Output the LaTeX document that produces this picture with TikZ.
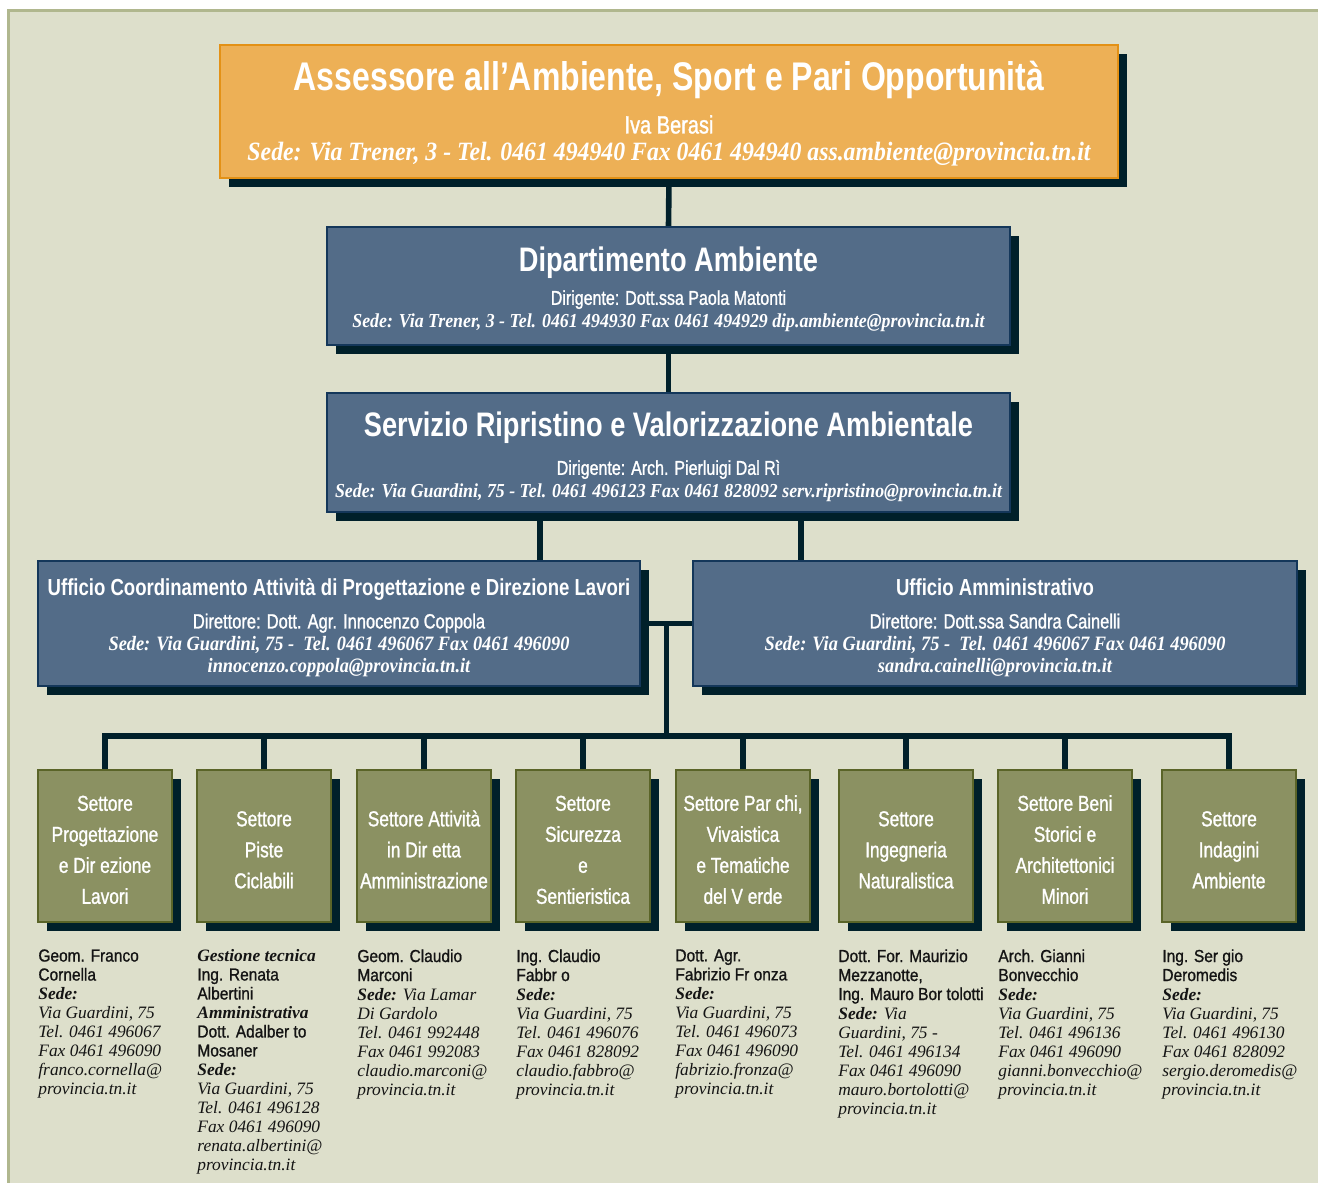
\documentclass[tikz,border=0pt]{standalone}
\usepackage{fontspec}
\setmainfont{Liberation Serif}
\newfontfamily\condsans[FakeStretch=0.8]{Liberation Sans}
\newfontfamily\medsans[FakeStretch=0.8, BoldFont={Liberation Sans},
  BoldFeatures={FakeBold=1.2}]{Liberation Sans}
\newfontfamily\namesans[FakeStretch=0.89, BoldFont={Liberation Sans},
  BoldFeatures={FakeBold=1}]{Liberation Sans}
\newfontfamily\condserif[FakeStretch=0.9]{Liberation Serif}
\usetikzlibrary{positioning, calc, backgrounds, shadows}
\definecolor{panelbg}{HTML}{DDDFCB}
\definecolor{panelrule}{HTML}{B0B78E}
\definecolor{orgfill}{HTML}{EDB056}
\definecolor{orgrule}{HTML}{E39116}
\definecolor{bluefill}{HTML}{536C88}
\definecolor{bluerule}{HTML}{14375A}
\definecolor{olivefill}{HTML}{8B9162}
\definecolor{oliverule}{HTML}{5A6428}
\definecolor{deepteal}{HTML}{00202A}
\definecolor{inktext}{HTML}{141414}
\newcommand{\hdf}[3]{\condsans\bfseries\fontsize{#1}{#2}\selectfont\rule{0pt}{#3}}
\newcommand{\subf}[2]{\medsans\bfseries\upshape\fontsize{#1}{#2}\selectfont}
\newcommand{\sedef}[2]{\condserif\bfseries\itshape\fontsize{#1}{#2}\selectfont}
\newcommand{\who}[1]{{\namesans\bfseries\upshape #1}}
\newcommand{\sede}{\textbf{Sede:}}

\begin{document}
\begin{tikzpicture}[x=0.5pt, y=-0.5pt,
    office/.style={rectangle, draw=#1rule, fill=#1fill, line width=1pt,
                   inner sep=0pt, align=center, text=white,
                   drop shadow={shadow xshift=4.5pt, shadow yshift=-4.5pt,
                                fill=deepteal, opacity=1}},
    settore/.style={office=olive, minimum width=67pt, minimum height=76pt,
                    font=\medsans\bfseries\fontsize{10.8}{15.5}\selectfont},
    info/.style={align=left, inner sep=0pt, text=inktext,
                 font=\fontsize{8.7}{9.5}\selectfont\itshape},
    link/.style={draw=deepteal, line width=2.8pt}
]
\useasboundingbox (0,0) rectangle (1318,1183);

% assessorato, dipartimento, servizio
\node[office=org, minimum width=449pt, minimum height=66.5pt,
      font=\fontsize{12}{13.5}\selectfont] (ass) at (669,111.5)
  {\hdf{20}{13.5}{16.8pt}Assessore all’Ambiente, Sport e Pari Opportunità\\[8pt]
   \subf{12.5}{13.5}Iva Berasi\\
   \sedef{13.2}{13.5}Sede: Via Trener, 3 - Tel. 0461 494940 Fax 0461 494940 ass.ambiente@provincia.tn.it};

\node[office=blue, minimum width=341.5pt, minimum height=59pt,
      font=\fontsize{10}{11.25}\selectfont] (dip) at (668.5,286)
  {\hdf{17}{11.25}{15.4pt}Dipartimento Ambiente\\[5.5pt]
   \subf{10}{11.25}Dirigente: Dott.ssa Paola Matonti\\
   \sedef{9.9}{11.25}Sede: Via Trener, 3 - Tel. 0461 494930 Fax 0461 494929 dip.ambiente@provincia.tn.it};

\node[office=blue, minimum width=341.5pt, minimum height=59.5pt,
      font=\fontsize{10}{11.25}\selectfont] (serv) at (668.5,452.5)
  {\hdf{17}{11.25}{16.4pt}Servizio Ripristino e Valorizzazione Ambientale\\[8pt]
   \subf{10}{11.25}Dirigente: Arch. Pierluigi Dal Rì\\
   \sedef{9.9}{11.25}Sede: Via Guardini, 75 - Tel. 0461 496123 Fax 0461 828092 serv.ripristino@provincia.tn.it};

% uffici
\node[office=blue, minimum width=301pt, minimum height=62.5pt,
      font=\fontsize{10}{11}\selectfont] (uffc) at (339,623.5)
  {\hdf{11.6}{11}{12.6pt}Ufficio Coordinamento Attività di Progettazione e Direzione Lavori\\[5.5pt]
   \subf{10.3}{11}Direttore: Dott. Agr. Innocenzo Coppola\\
   \sedef{10.2}{11}Sede: Via Guardini, 75 -\ \ Tel. 0461 496067 Fax 0461 496090\\
   \sedef{10.2}{11}innocenzo.coppola@provincia.tn.it};

\node[office=blue, minimum width=302pt, minimum height=62.5pt,
      font=\fontsize{10}{11}\selectfont] (uffa) at (995,623.5)
  {\hdf{11.6}{11}{12.6pt}Ufficio Amministrativo\\[5.5pt]
   \subf{10.3}{11}Direttore: Dott.ssa Sandra Cainelli\\
   \sedef{10.2}{11}Sede: Via Guardini, 75 -\ \ Tel. 0461 496067 Fax 0461 496090\\
   \sedef{10.2}{11}sandra.cainelli@provincia.tn.it};

% settori
\foreach \i/\x/\txt in {
    1/105/{Settore\\Progettazione\\e Dir ezione\\Lavori},
    2/264/{Settore\\Piste\\Ciclabili},
    3/424/{Settore Attività\\in Dir etta\\Amministrazione},
    4/583/{Settore\\Sicurezza\\e\\Sentieristica},
    5/743/{Settore Par chi,\\Vivaistica\\e Tematiche\\del V erde},
    6/906/{Settore\\Ingegneria\\Naturalistica},
    7/1065/{Settore Beni\\Storici e\\Architettonici\\Minori},
    8/1229/{Settore\\Indagini\\Ambiente}}
  \node[settore] (set\i) at (\x,846) {\rule{0pt}{11.4pt}\txt};

% referenti
\node[info, below right=13pt and 0.5pt of set1.south west] (inf1)
  {\who{Geom. Franco}\\ \who{Cornella}\\ \sede\\ Via Guardini, 75\\
   Tel. 0461 496067\\ Fax 0461 496090\\ franco.cornella@\\ provincia.tn.it};
\node[info, below right=13pt and 0.5pt of set2.south west] (inf2)
  {\textbf{Gestione tecnica}\\ \who{Ing. Renata}\\ \who{Albertini}\\
   \textbf{Amministrativa}\\ \who{Dott. Adalber to}\\ \who{Mosaner}\\ \sede\\
   Via Guardini, 75\\ Tel. 0461 496128\\ Fax 0461 496090\\ renata.albertini@\\ provincia.tn.it};
\node[info, below right=13pt and 0.5pt of set3.south west] (inf3)
  {\who{Geom. Claudio}\\ \who{Marconi}\\ \sede{} Via Lamar\\ Di Gardolo\\
   Tel. 0461 992448\\ Fax 0461 992083\\ claudio.marconi@\\ provincia.tn.it};
\node[info, below right=13pt and 0.5pt of set4.south west] (inf4)
  {\who{Ing. Claudio}\\ \who{Fabbr o}\\ \sede\\ Via Guardini, 75\\
   Tel. 0461 496076\\ Fax 0461 828092\\ claudio.fabbro@\\ provincia.tn.it};
\node[info, below right=13pt and 0pt of set5.south west] (inf5)
  {\who{Dott. Agr.}\\ \who{Fabrizio Fr onza}\\ \sede\\ Via Guardini, 75\\
   Tel. 0461 496073\\ Fax 0461 496090\\ fabrizio.fronza@\\ provincia.tn.it};
\node[info, below right=13pt and 0pt of set6.south west] (inf6)
  {\who{Dott. For. Maurizio}\\ \who{Mezzanotte,}\\ \who{Ing. Mauro Bor tolotti}\\
   \sede{} Via\\ Guardini, 75 -\\ Tel. 0461 496134\\ Fax 0461 496090\\
   mauro.bortolotti@\\ provincia.tn.it};
\node[info, below right=13pt and 0.5pt of set7.south west] (inf7)
  {\who{Arch. Gianni}\\ \who{Bonvecchio}\\ \sede\\ Via Guardini, 75\\
   Tel. 0461 496136\\ Fax 0461 496090\\ gianni.bonvecchio@\\ provincia.tn.it};
\node[info, below right=13pt and 0.5pt of set8.south west] (inf8)
  {\who{Ing. Ser gio}\\ \who{Deromedis}\\ \sede\\ Via Guardini, 75\\
   Tel. 0461 496130\\ Fax 0461 828092\\ sergio.deromedis@\\ provincia.tn.it};

\begin{scope}[on background layer]
  \fill[panelbg] (8.5,10.5) rectangle (1330,1195);
  \draw[panelrule, line width=1.5pt] (8.5,1195) -- (8.5,10.5) -- (1330,10.5);
  % connettori
  \draw[link] (ass.south) -- (dip.north);
  \draw[link] (dip.south) -- (serv.north);
  \draw[link] ($(serv.south west)!0.312!(serv.south east)$) coordinate (srvl)
      -- (srvl |- uffc.north);
  \draw[link] ($(serv.south west)!0.693!(serv.south east)$) coordinate (srvr)
      -- (srvr |- uffa.north);
  \draw[link] (uffc.east) -- (uffa.west);
  \coordinate (hub) at ($(uffc.east)!0.5!(uffa.west)$);
  \draw[link] (set1.north) -- ++(0,-33) coordinate (busw) -| (set8.north);
  \draw[link] (hub) -- (hub |- busw);
  \foreach \i in {2,...,7}
    \draw[link] (set\i.north) -- (set\i.north |- busw);
\end{scope}
\end{tikzpicture}
\end{document}
